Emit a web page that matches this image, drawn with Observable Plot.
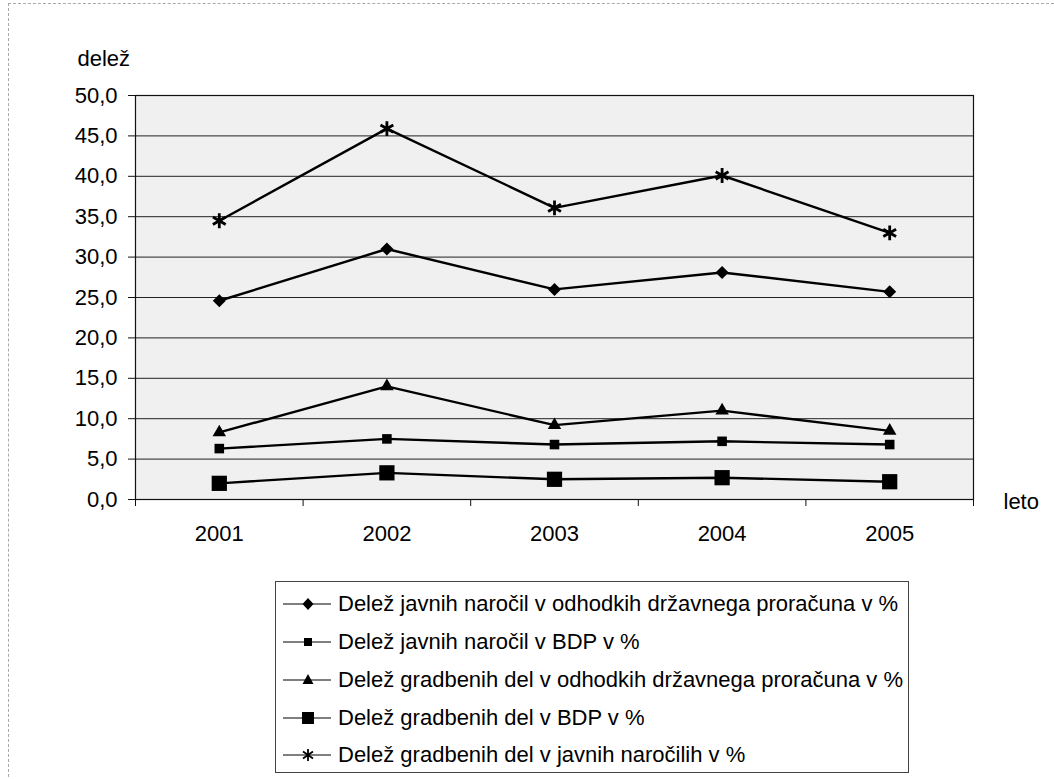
<!DOCTYPE html>
<html><head><meta charset="utf-8">
<script src="https://cdn.jsdelivr.net/npm/d3@7"></script>
<script src="https://cdn.jsdelivr.net/npm/@observablehq/plot@0.6"></script>
<style>
body{margin:0;background:#fff;font-family:"Liberation Sans",Arial,sans-serif;}
#wrap{position:relative;width:1054px;height:779px;overflow:hidden;background:#fff}
#chart{position:absolute;left:0;top:0}
#frameL{position:absolute;left:8px;top:3px;width:0;height:779px;border-left:1px dashed #aaa}
#frameT{position:absolute;left:8px;top:3px;width:1046px;height:0;border-top:1px dashed #aaa}
#legend{position:absolute;left:275px;top:581px;width:634px;height:192px;border:1px solid #444;background:#fff;box-sizing:border-box}
.row{position:absolute;left:0;height:26px;line-height:26px;display:flex;align-items:center;font-size:22px;color:#000;white-space:nowrap}
.row svg{display:block;margin-left:7px;margin-right:3px}
</style></head><body>
<div id="wrap"><div id="frameL"></div><div id="frameT"></div><div id="chart"></div><div id="legend"></div></div>
<script>
const years = [2001, 2002, 2003, 2004, 2005];
const seriesNames = [
  "Delež javnih naročil v odhodkih državnega proračuna v %",
  "Delež javnih naročil v BDP v %",
  "Delež gradbenih del v odhodkih državnega proračuna v %",
  "Delež gradbenih del v BDP v %",
  "Delež gradbenih del v javnih naročilih v %"
];
const javniProracun = [24.6, 31.0, 26.0, 28.1, 25.7];
const javniBDP = [6.3, 7.5, 6.8, 7.2, 6.8];
const gradbeniProracun = [8.3, 14.0, 9.2, 11.0, 8.5];
const gradbeniBDP = [2.0, 3.3, 2.5, 2.7, 2.2];
const gradbeniJavni = [34.5, 45.9, 36.1, 40.1, 33.0];
const yTicks = [0, 5, 10, 15, 20, 25, 30, 35, 40, 45, 50];
const yTickLabels = ["0,0", "5,0", "10,0", "15,0", "20,0", "25,0", "30,0", "35,0", "40,0", "45,0", "50,0"];
const yTitle = "delež";
const xTitle = "leto";

const seriesValues = [javniProracun, javniBDP, gradbeniProracun, gradbeniBDP, gradbeniJavni];
const markerStyle = [
  {symbol: "square", r: 5.2, rotate: 45, fill: "black", stroke: "none"},
  {symbol: "square", r: 5.4, rotate: 0, fill: "black", stroke: "none"},
  {symbol: "triangle", r: 5.0, rotate: 0, fill: "black", stroke: "none"},
  {symbol: "square", r: 8.6, rotate: 0, fill: "black", stroke: "none"},
  {symbol: "asterisk", r: 7.0, rotate: 0, fill: "none", stroke: "black"}
];

const rows = [];
seriesValues.forEach((vals, s) => vals.forEach((v, i) => rows.push({series: seriesNames[s], s, year: years[i], value: v})));
const bounds = years.map(y => y - 0.5).concat([years[years.length - 1] + 0.5]);

const W = 1054, H = 560;
const FS = 22;
const marks = [
  Plot.frame({fill: "#f0f0f0", stroke: "none"}),
  Plot.ruleY(yTicks, {stroke: "#222", strokeWidth: 1}),
  Plot.frame({stroke: "#111", strokeWidth: 1.2}),
  Plot.axisY(yTicks, {tickFormat: d => yTickLabels[yTicks.indexOf(d)], tickSize: 7, tickPadding: 11, fontSize: FS, label: null, stroke: "#111"}),
  Plot.axisX(years, {tickSize: 0, tickPadding: 26, fontSize: FS, tickFormat: d => String(d), label: null}),
  Plot.axisX(bounds, {tickSize: 7, tickFormat: () => "", label: null, stroke: "#111"}),
  Plot.line(rows, {x: "year", y: "value", z: "series", stroke: "black", strokeWidth: 2.4})
];
markerStyle.forEach((m, s) => {
  marks.push(Plot.dot(rows.filter(d => d.s === s), {
    x: "year", y: "value", symbol: () => m.symbol, r: m.r, rotate: m.rotate,
    fill: m.fill, stroke: m.stroke, strokeWidth: m.stroke === "none" ? 0 : 2.8
  }));
});
marks.push(Plot.text([yTitle], {frameAnchor: "top-left", dx: -58, dy: -45, textAnchor: "start", fontSize: FS}));
marks.push(Plot.text([xTitle], {frameAnchor: "bottom-right", dx: 30, dy: 9, textAnchor: "start", fontSize: FS}));

const chart = Plot.plot({
  width: W, height: H,
  marginLeft: 135, marginRight: W - 973, marginTop: 95, marginBottom: H - 499,
  x: {type: "linear", domain: [bounds[0], bounds[bounds.length - 1]]},
  y: {domain: [0, 50]},
  style: {fontFamily: "'Liberation Sans', Arial, sans-serif", background: "transparent", color: "#000", fontSize: FS + "px"},
  marks
});
document.getElementById("chart").appendChild(chart);

// legend
const legend = document.getElementById("legend");
const legendMarker = [
  `<path d="M25,7 L30.5,13 L25,19 L19.5,13 Z" fill="black"/>`,
  `<rect x="21" y="9" width="8" height="8" fill="black"/>`,
  `<path d="M25,7 L30.5,17 L19.5,17 Z" fill="black"/>`,
  `<rect x="19" y="7" width="12" height="12" fill="black"/>`,
  `<g stroke="black" stroke-width="1.8"><line x1="25" y1="7" x2="25" y2="19"/><line x1="20" y1="9.5" x2="30" y2="16.5"/><line x1="20" y1="16.5" x2="30" y2="9.5"/></g>`
];
const rowTops = [9, 47, 85, 123, 160];
seriesNames.forEach((name, s) => {
  const row = document.createElement("div");
  row.className = "row";
  row.style.top = rowTops[s] + "px";
  row.innerHTML = `<svg width="52" height="26"><line x1="0" y1="13" x2="48" y2="13" stroke="black" stroke-width="1.2"/>${legendMarker[s]}</svg><span>${name}</span>`;
  legend.appendChild(row);
});
</script>
</body></html>
